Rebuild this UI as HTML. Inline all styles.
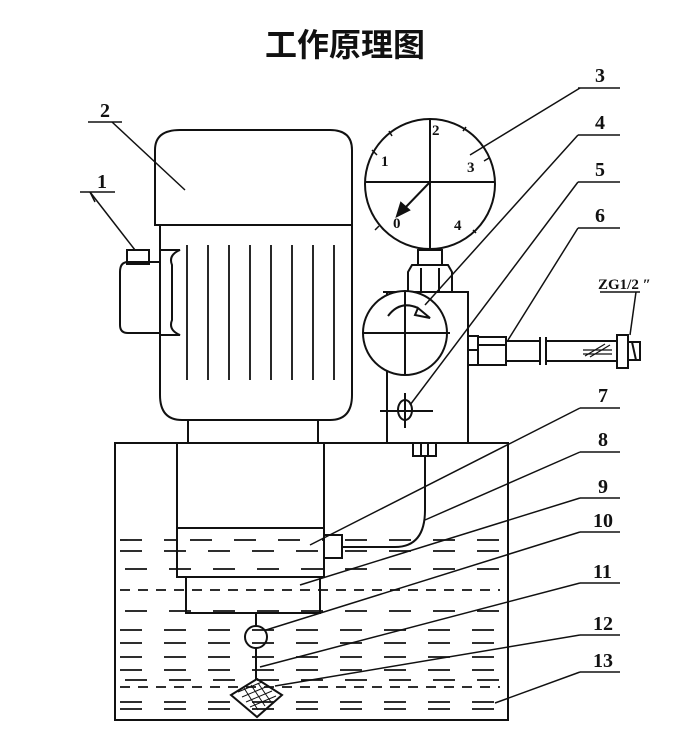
<!DOCTYPE html>
<html><head><meta charset="utf-8"><style>
html,body{margin:0;padding:0;background:#fff;}
svg{display:block}
text{font-family:"Liberation Serif",serif;font-weight:bold;fill:#111}
</style></head><body>
<svg width="685" height="741" viewBox="0 0 685 741" xmlns="http://www.w3.org/2000/svg" stroke="#111" fill="none" stroke-width="2">
<text x="345" y="56" text-anchor="middle" stroke="none" style="font-family:'Liberation Sans','Noto Sans CJK SC',sans-serif;font-size:32px;font-weight:bold">工作原理图</text>

<!-- motor -->
<path d="M155 225 V150 Q155 130 180 130 H330 Q352 130 352 150 V225 Z"/>
<path d="M160 225 H352 V395 Q352 420 330 420 H182 Q160 420 160 395 Z"/>
<path d="M160 250 H180 Q168 255 172 265 V320 Q168 330 180 335 H160" />
<path d="M160 262 H128 Q120 262 120 272 V325 Q120 333 128 333 H160"/>
<rect x="127" y="250" width="22" height="14"/>
<g stroke-width="1.8">
<line x1="187" y1="245" x2="187" y2="380"/><line x1="208" y1="245" x2="208" y2="380"/>
<line x1="229" y1="245" x2="229" y2="380"/><line x1="250" y1="245" x2="250" y2="380"/>
<line x1="271" y1="245" x2="271" y2="380"/><line x1="292" y1="245" x2="292" y2="380"/>
<line x1="313" y1="245" x2="313" y2="380"/><line x1="334" y1="245" x2="334" y2="380"/>
</g>
<rect x="188" y="420" width="130" height="23"/>

<!-- gauge -->
<circle cx="430" cy="184" r="65"/>
<line x1="430" y1="119" x2="430" y2="249"/>
<line x1="365" y1="182" x2="495" y2="182"/>
<line x1="430" y1="182" x2="403" y2="210"/>
<path d="M397 216 L401 203 L409 210 Z" fill="#111"/>
<g stroke-width="1.5"><line x1="372" y1="150" x2="377" y2="155"/><line x1="389" y1="131" x2="392" y2="136"/><line x1="484" y1="161" x2="489" y2="158"/><line x1="463" y1="131" x2="466" y2="127"/><line x1="375" y1="230" x2="379" y2="226"/><line x1="473" y1="230" x2="476" y2="233"/></g>
<g stroke="none" font-size="15"><text x="381" y="166">1</text><text x="432" y="135">2</text><text x="467" y="172">3</text><text x="393" y="228">0</text><text x="454" y="230">4</text></g>
<rect x="418" y="250" width="24" height="15"/>
<path d="M412 265 H448 L452 272 V292 H408 V272 Z"/>
<line x1="421" y1="268" x2="421" y2="292"/><line x1="439" y1="268" x2="439" y2="292"/>

<!-- valve block -->
<rect x="387" y="292" width="81" height="151"/>
<line x1="383" y1="292" x2="468" y2="292"/>
<circle cx="405" cy="333" r="42" fill="#fff"/>
<line x1="362" y1="333" x2="450" y2="333"/><line x1="405" y1="291" x2="405" y2="375"/>
<path d="M388 316 Q400 300 418 308"/><path d="M418 308 L430 318 L415 315 Z"/>
<ellipse cx="405" cy="410" rx="7" ry="10"/>
<line x1="380" y1="411" x2="433" y2="411"/><line x1="405" y1="393" x2="405" y2="428"/>
<rect x="468" y="336" width="10" height="29"/><line x1="468" y1="350" x2="478" y2="350"/>
<rect x="478" y="337" width="28" height="28"/><line x1="478" y1="345" x2="506" y2="345"/>
<line x1="506" y1="341" x2="540" y2="341"/><line x1="506" y1="361" x2="540" y2="361"/>
<line x1="540" y1="337" x2="540" y2="365"/><line x1="546" y1="337" x2="546" y2="365"/>
<line x1="546" y1="341" x2="617" y2="341"/><line x1="546" y1="361" x2="617" y2="361"/>
<g stroke-width="1.2"><line x1="585" y1="356" x2="605" y2="344"/><line x1="590" y1="357" x2="610" y2="345"/><line x1="583" y1="350" x2="612" y2="350"/><line x1="583" y1="354" x2="612" y2="354"/></g>
<rect x="617" y="335" width="11" height="33"/>
<path d="M628 342 H640 V360 H628 M632 342 L636 360"/>
<rect x="413" y="443" width="23" height="13"/><line x1="421" y1="443" x2="421" y2="456"/><line x1="428" y1="443" x2="428" y2="456"/>

<!-- tank -->
<rect x="115" y="443" width="393" height="277"/>
<rect x="177" y="443" width="147" height="134"/>
<line x1="177" y1="528" x2="324" y2="528"/>
<rect x="186" y="577" width="134" height="36"/>
<rect x="324" y="535" width="18" height="23"/>
<path d="M425 456 V510 Q425 547 395 547 H342"/>
<line x1="256" y1="613" x2="256" y2="626"/>
<circle cx="256" cy="637" r="11"/>
<line x1="256" y1="648" x2="256" y2="679"/>
<path d="M257 679 L282 695 L257 717 L231 695 Z"/>
<g stroke-width="1"><line x1="238" y1="692" x2="262" y2="682"/><line x1="242" y1="697" x2="268" y2="686"/><line x1="246" y1="702" x2="272" y2="691"/><line x1="250" y1="707" x2="276" y2="696"/><line x1="244" y1="688" x2="258" y2="710"/><line x1="251" y1="685" x2="265" y2="706"/><line x1="258" y1="683" x2="271" y2="702"/></g>
<!-- liquid dashes -->
<g stroke-width="1.8" stroke-dasharray="22 22">
<line x1="120" y1="540" x2="177" y2="540"/><line x1="190" y1="540" x2="324" y2="540"/><line x1="345" y1="540" x2="500" y2="540"/>
<line x1="120" y1="551" x2="324" y2="551"/><line x1="345" y1="551" x2="500" y2="551"/>
<line x1="125" y1="569" x2="500" y2="569"/>
<line x1="120" y1="590" x2="500" y2="590" stroke-dasharray="10 8"/>
<line x1="125" y1="611" x2="500" y2="611"/>
<line x1="120" y1="630" x2="500" y2="630"/>
<line x1="120" y1="643" x2="500" y2="643"/>
<line x1="120" y1="657" x2="500" y2="657"/>
<line x1="120" y1="670" x2="500" y2="670"/>
<line x1="125" y1="680" x2="500" y2="680"/>
<line x1="120" y1="687" x2="500" y2="687" stroke-dasharray="10 8"/>
<line x1="120" y1="702" x2="500" y2="702"/>
<line x1="120" y1="709" x2="500" y2="709"/>
</g>

<!-- labels -->
<g stroke-width="1.5">
<line x1="80" y1="192" x2="115" y2="192"/><line x1="90" y1="192" x2="135" y2="250"/><line x1="90" y1="192" x2="95" y2="202"/>
<line x1="88" y1="122" x2="122" y2="122"/><line x1="112" y1="122" x2="185" y2="190"/>
<line x1="578" y1="88" x2="620" y2="88"/><line x1="580" y1="88" x2="470" y2="155"/>
<line x1="578" y1="135" x2="620" y2="135"/><line x1="578" y1="135" x2="425" y2="305"/>
<line x1="578" y1="182" x2="620" y2="182"/><line x1="578" y1="182" x2="410" y2="405"/>
<line x1="578" y1="228" x2="620" y2="228"/><line x1="578" y1="228" x2="508" y2="340"/>
<line x1="580" y1="408" x2="620" y2="408"/><line x1="580" y1="408" x2="310" y2="545"/>
<line x1="580" y1="452" x2="620" y2="452"/><line x1="580" y1="452" x2="425" y2="520"/>
<line x1="580" y1="498" x2="620" y2="498"/><line x1="580" y1="498" x2="300" y2="585"/>
<line x1="580" y1="532" x2="620" y2="532"/><line x1="580" y1="532" x2="266" y2="630"/>
<line x1="580" y1="583" x2="620" y2="583"/><line x1="580" y1="583" x2="260" y2="667"/>
<line x1="580" y1="635" x2="620" y2="635"/><line x1="580" y1="635" x2="275" y2="686"/>
<line x1="580" y1="672" x2="620" y2="672"/><line x1="580" y1="672" x2="495" y2="703"/>
<line x1="600" y1="292" x2="640" y2="292"/><line x1="636" y1="292" x2="630" y2="335"/>
</g>
<g stroke="none" font-size="20">
<text x="97" y="188">1</text><text x="100" y="117">2</text>
<text x="595" y="82">3</text><text x="595" y="129">4</text><text x="595" y="176">5</text><text x="595" y="222">6</text>
<text x="598" y="402">7</text><text x="598" y="446">8</text><text x="598" y="493">9</text>
<text x="593" y="527">10</text><text x="593" y="578">11</text><text x="593" y="630">12</text><text x="593" y="667">13</text>
<text x="598" y="289" font-size="15" font-weight="normal">ZG1/2 ″</text>
</g>
</svg>
</body></html>
